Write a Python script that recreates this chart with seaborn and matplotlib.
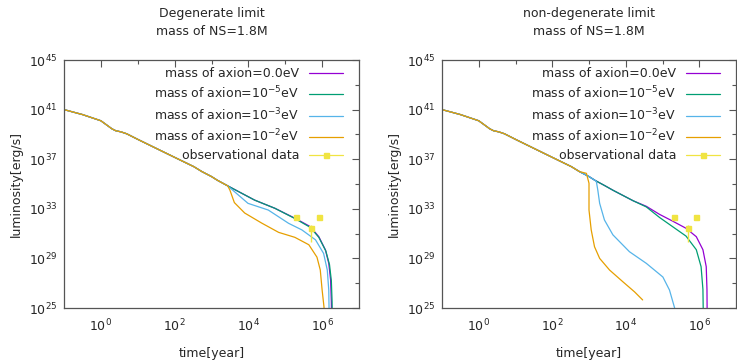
import numpy as np
import pandas as pd
import matplotlib
matplotlib.use("Agg")
import matplotlib.pyplot as plt
import seaborn as sns
from matplotlib.lines import Line2D
from matplotlib.ticker import NullFormatter, FixedLocator

# -----------------------------
# data (log10 of time[year], log10 of luminosity[erg/s])
# -----------------------------
series_names = ["mass of axion=0.0eV", "mass of axion=10$^{-5}$eV",
                "mass of axion=10$^{-3}$eV", "mass of axion=10$^{-2}$eV"]
series_colors = ["#9400d3", "#009e73", "#56b4e9", "#e69f00"]

# shared early cooling curve
common_logt = [-1.0, -0.5, 0.0, 0.3, 0.4, 0.55, 0.7, 1.0, 1.62, 2.0, 2.52, 2.74, 3.0, 3.16, 3.44]
common_logL = [41.0, 40.6, 40.1, 39.45, 39.3, 39.2, 39.05, 38.6, 37.7, 37.15, 36.4, 36.0, 35.6, 35.3, 34.85]

# degenerate limit, tails after t = 10^3.44
deg_m0_logt = [4.17, 4.72, 5.27, 5.68, 5.91, 6.09, 6.18, 6.23, 6.25, 6.255]
deg_m0_logL = [33.7, 33.04, 32.23, 31.56, 30.75, 29.68, 28.6, 27.26, 25.5, 24.5]
deg_m5_logt = [4.17, 4.72, 5.27, 5.68, 5.91, 6.1, 6.2, 6.25, 6.27, 6.275]
deg_m5_logL = [33.7, 33.04, 32.2, 31.5, 30.7, 29.6, 28.5, 27.2, 25.5, 24.5]
deg_m3_logt = [3.99, 4.54, 5.09, 5.45, 5.82, 6.04, 6.14, 6.18, 6.19]
deg_m3_logL = [33.44, 32.9, 31.83, 31.3, 30.5, 29.4, 28.06, 26.45, 24.5]
deg_m2_logt = [3.5, 3.62, 3.9, 4.36, 4.82, 5.26, 5.64, 5.86, 5.95, 6.0, 6.05, 6.06]
deg_m2_logL = [34.5, 33.5, 32.66, 31.85, 31.1, 30.7, 30.1, 29.1, 28.06, 26.45, 25.1, 24.5]

# non-degenerate limit, tails
nd_m0_logt = [3.65, 4.2, 4.56, 4.92, 5.28, 5.64, 5.92, 6.1, 6.19, 6.21, 6.215]
nd_m0_logL = [34.5, 33.65, 33.2, 32.55, 32.0, 31.43, 30.75, 29.7, 28.33, 26.5, 24.5]
nd_m5_logt = [3.65, 4.2, 4.56, 4.92, 5.28, 5.64, 5.92, 6.05, 6.1, 6.11]
nd_m5_logL = [34.5, 33.65, 33.15, 32.3, 31.55, 30.8, 29.7, 28.33, 26.5, 24.5]
nd_m3_logt = [3.2, 3.24, 3.29, 3.42, 3.65, 4.1, 4.56, 5.01, 5.19, 5.33, 5.35]
nd_m3_logL = [35.2, 34.5, 33.44, 32.1, 30.9, 29.54, 28.6, 27.5, 26.45, 25.0, 24.8]
nd_m2_logt = [2.93, 3.0, 3.0, 3.06, 3.15, 3.29, 3.56, 3.92, 4.24, 4.46]
nd_m2_logL = [35.86, 35.06, 32.9, 31.3, 29.94, 29.0, 28.06, 27.12, 26.3, 25.65]

# observational data
obs_logt = [5.3, 5.69, 5.91]
obs_logL = [32.37, 31.43, 32.37]
obs_logL_lo = [32.37, 30.35, 32.37]
obs_logL_hi = [32.37, 31.7, 32.37]

panel_titles = ["Degenerate limit\nmass of NS=1.8M", "non-degenerate limit\nmass of NS=1.8M"]


def build_frame(tails):
    rows = []
    for name, (lt, lL) in zip(series_names, tails):
        t_all = [x for x in common_logt if x < lt[0]] + lt
        L_all = [y for x, y in zip(common_logt, common_logL) if x < lt[0]] + lL
        for a, b in zip(t_all, L_all):
            rows.append((10 ** a, 10 ** b, name))
    return pd.DataFrame(rows, columns=["time", "luminosity", "model"])


deg_tails = [(common_logt[-1:] + deg_m0_logt, common_logL[-1:] + deg_m0_logL),
             (common_logt[-1:] + deg_m5_logt, common_logL[-1:] + deg_m5_logL),
             (common_logt[-1:] + deg_m3_logt, common_logL[-1:] + deg_m3_logL),
             (common_logt[-1:] + deg_m2_logt, common_logL[-1:] + deg_m2_logL)]
nd_tails = [(nd_m0_logt, nd_m0_logL), (nd_m5_logt, nd_m5_logL),
            (nd_m3_logt, nd_m3_logL), (nd_m2_logt, nd_m2_logL)]

sns.set_style("white")
plt.rcParams["font.family"] = ["DejaVu Sans"]
plt.rcParams["mathtext.fontset"] = "dejavusans"

fig = plt.figure(figsize=(7.37, 3.61), dpi=100)
ax_positions = [[64 / 737, 53 / 361, 295 / 737, 248 / 361],
                [442 / 737, 53 / 361, 294 / 737, 248 / 361]]

frame_color = "#555555"
fs = 9

for pos, tails, title in zip(ax_positions, [deg_tails, nd_tails], panel_titles):
    ax = fig.add_axes(pos)
    ax.set_xscale("log")
    ax.set_yscale("log")
    df = build_frame(tails)
    sns.lineplot(data=df, x="time", y="luminosity", hue="model",
                 hue_order=series_names, palette=series_colors,
                 sort=False, estimator=None, lw=0.9, legend=False, ax=ax)

    t_obs = 10 ** np.array(obs_logt)
    L_obs = 10 ** np.array(obs_logL)
    yerr = [L_obs - 10 ** np.array(obs_logL_lo), 10 ** np.array(obs_logL_hi) - L_obs]
    ax.errorbar(t_obs, L_obs, yerr=yerr, fmt="s", color="#f0e442",
                ms=3.6, elinewidth=1.0, capsize=0, zorder=5)

    ax.set_xlim(10 ** -1, 10 ** 7)
    ax.set_ylim(1e25, 1e45)
    ax.set_xticks([1e0, 1e2, 1e4, 1e6])
    ax.set_xticklabels(["$10^{0}$", "$10^{2}$", "$10^{4}$", "$10^{6}$"], fontsize=fs)
    ax.xaxis.set_minor_locator(FixedLocator([1e1, 1e3, 1e5]))
    ax.xaxis.set_minor_formatter(NullFormatter())
    ax.set_yticks([1e25, 1e29, 1e33, 1e37, 1e41, 1e45])
    ax.set_yticklabels(["$10^{25}$", "$10^{29}$", "$10^{33}$", "$10^{37}$",
                        "$10^{41}$", "$10^{45}$"], fontsize=fs)
    ax.yaxis.set_minor_locator(FixedLocator([1e27, 1e31, 1e35, 1e39, 1e43]))
    ax.yaxis.set_minor_formatter(NullFormatter())
    ax.tick_params(which="both", direction="in", top=True, right=True,
                   color=frame_color, width=0.8)
    ax.tick_params(which="major", length=5)
    ax.tick_params(axis="x", which="major", pad=7)
    ax.tick_params(axis="y", which="major", pad=5)
    ax.tick_params(which="minor", length=3)
    for s in ax.spines.values():
        s.set_color(frame_color)
        s.set_linewidth(0.9)

    ax.set_xlabel("time[year]", fontsize=fs, labelpad=9)
    ax.set_ylabel("luminosity[erg/s]", fontsize=fs, labelpad=4)
    ax.set_title(title, fontsize=fs, pad=18, linespacing=1.5)

    handles = [Line2D([], [], color=c, lw=0.9) for c in series_colors]
    handles.append(Line2D([], [], color="#f0e442", lw=0.9, marker="s", ms=3.6))
    ax.legend(handles, series_names + ["observational data"], loc="upper right",
              bbox_to_anchor=(0.945, 0.97), frameon=False, markerfirst=False,
              fontsize=fs, handlelength=2.7, handletextpad=0.8,
              labelspacing=0.38, borderpad=0, borderaxespad=0)

fig.savefig("out.png", dpi=100)
